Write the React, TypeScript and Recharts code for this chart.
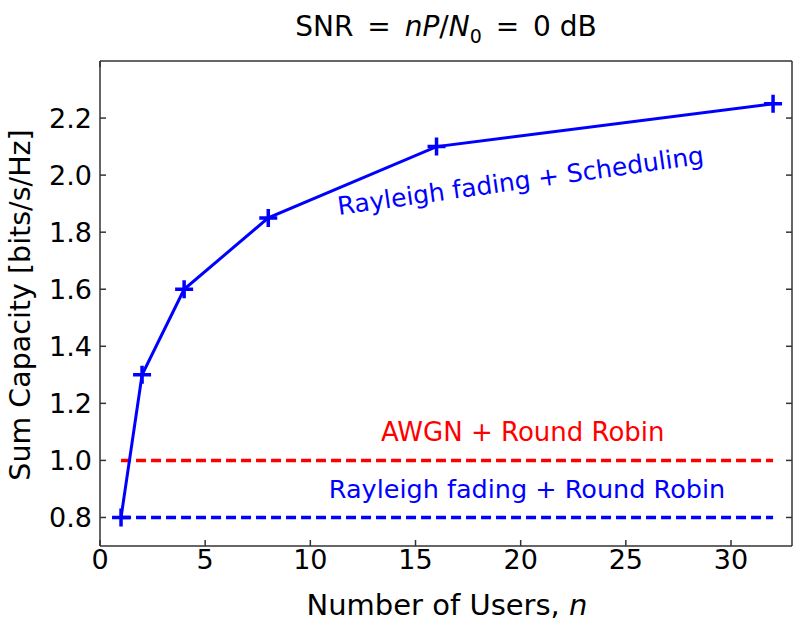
import React from 'react';
import { LineChart, Line, XAxis, YAxis, ReferenceDot } from 'recharts';

const users = [1, 2, 4, 8, 16, 32];
const scheduling = [0.8, 1.3, 1.6, 1.85, 2.1, 2.25];
const awgnRoundRobin = [1.0, 1.0, 1.0, 1.0, 1.0, 1.0];
const rayleighRoundRobin = [0.8, 0.8, 0.8, 0.8, 0.8, 0.8];
const xTicks = [0, 5, 10, 15, 20, 25, 30];
const yTicks = [0.8, 1.0, 1.2, 1.4, 1.6, 1.8, 2.0, 2.2];

const data = users.map((n, i) => ({
  n,
  sched: scheduling[i],
  awgn: awgnRoundRobin[i],
  rr: rayleighRoundRobin[i],
}));

const FONT = 'DejaVu Sans';
const BLUE = '#0000ff';
const RED = '#ff0000';
const AXIS = '#333333';

const PlusDot = (props: any) => {
  const { cx, cy, index } = props;
  if (cx == null || cy == null) return <g key={`d${index}`} />;
  return (
    <path
      key={`d${index}`}
      d={`M${cx - 9},${cy}H${cx + 9}M${cx},${cy - 9}V${cy + 9}`}
      stroke={BLUE}
      strokeWidth={3.5}
      fill="none"
    />
  );
};

const noTick = () => <g />;

const textShape = (label: string, color: string, angle: number, size: number) => (props: any) => {
  const { cx, cy } = props;
  return (
    <text
      x={cx}
      y={cy}
      fill={color}
      fontFamily={FONT}
      fontSize={size}
      textAnchor="middle"
      dominantBaseline="central"
      transform={angle ? `rotate(${angle} ${cx} ${cy})` : undefined}
    >
      {label}
    </text>
  );
};

const eq = { margin: '0 5px' };

export default function App() {
  return (
    <div style={{ position: 'absolute', left: 0, top: 0, width: 795, height: 623, background: '#fff' }}>
      <LineChart
        width={795}
        height={623}
        data={data}
        margin={{ top: 60, right: 2, bottom: 0, left: 0 }}
      >
        <XAxis
          dataKey="n"
          type="number"
          domain={[0, 32.9]}
          ticks={xTicks}
          height={77}
          stroke={AXIS}
          strokeWidth={1.5}
          tickSize={-6}
          tickMargin={10}
          tick={{ fontSize: 27, fill: '#000', fontFamily: FONT }}
          allowDataOverflow
        />
        <XAxis
          xAxisId="top"
          orientation="top"
          type="number"
          domain={[0, 32.9]}
          ticks={xTicks}
          height={1}
          stroke={AXIS}
          strokeWidth={1.5}
          tickSize={-6}
          tick={noTick}
          allowDataOverflow
        />
        <YAxis
          type="number"
          domain={[0.7, 2.4]}
          ticks={yTicks}
          width={100}
          stroke={AXIS}
          strokeWidth={1.5}
          tickSize={-6}
          tickMargin={14}
          tickFormatter={(v: number) => v.toFixed(1)}
          tick={{ fontSize: 27, fill: '#000', fontFamily: FONT }}
          allowDataOverflow
        />
        <YAxis
          yAxisId="right"
          orientation="right"
          type="number"
          domain={[0.7, 2.4]}
          ticks={yTicks}
          width={1}
          stroke={AXIS}
          strokeWidth={1.5}
          tickSize={-6}
          tick={noTick}
          allowDataOverflow
        />
        <Line
          dataKey="awgn"
          stroke={RED}
          strokeWidth={3.5}
          strokeDasharray="10 5"
          dot={false}
          activeDot={false}
          isAnimationActive={false}
        />
        <Line
          dataKey="rr"
          stroke={BLUE}
          strokeWidth={3.5}
          strokeDasharray="10 5"
          dot={false}
          activeDot={false}
          isAnimationActive={false}
        />
        <Line
          dataKey="sched"
          stroke={BLUE}
          strokeWidth={3}
          dot={PlusDot}
          activeDot={false}
          isAnimationActive={false}
        />
        <ReferenceDot x={20.1} y={1.1} r={0} shape={textShape('AWGN + Round Robin', RED, 0, 26)} />
        <ReferenceDot x={20.3} y={0.9} r={0} shape={textShape('Rayleigh fading + Round Robin', BLUE, 0, 25.5)} />
        <ReferenceDot x={20.0} y={1.98} r={0} shape={textShape('Rayleigh fading + Scheduling', BLUE, -8, 25)} />
      </LineChart>
      <div
        style={{
          position: 'absolute',
          left: 96,
          width: 700,
          top: 10,
          textAlign: 'center',
          fontFamily: FONT,
          fontSize: 28,
          color: '#000',
          whiteSpace: 'nowrap',
        }}
      >
        SNR <span style={eq}>=</span> <i>nP</i>/<i>N</i>
        <sub style={{ fontSize: 19 }}>0</sub> <span style={eq}>=</span> 0 dB
      </div>
      <div
        style={{
          position: 'absolute',
          left: 100,
          width: 694,
          top: 588,
          textAlign: 'center',
          fontFamily: FONT,
          fontSize: 29,
          color: '#000',
          whiteSpace: 'nowrap',
        }}
      >
        Number of Users, <i>n</i>
      </div>
      <div
        style={{
          position: 'absolute',
          left: 21 - 200,
          width: 400,
          top: 305 - 18,
          height: 36,
          lineHeight: '36px',
          textAlign: 'center',
          fontFamily: FONT,
          fontSize: 28.5,
          color: '#000',
          whiteSpace: 'nowrap',
          transform: 'rotate(-90deg)',
        }}
      >
        Sum Capacity [bits/s/Hz]
      </div>
    </div>
  );
}
